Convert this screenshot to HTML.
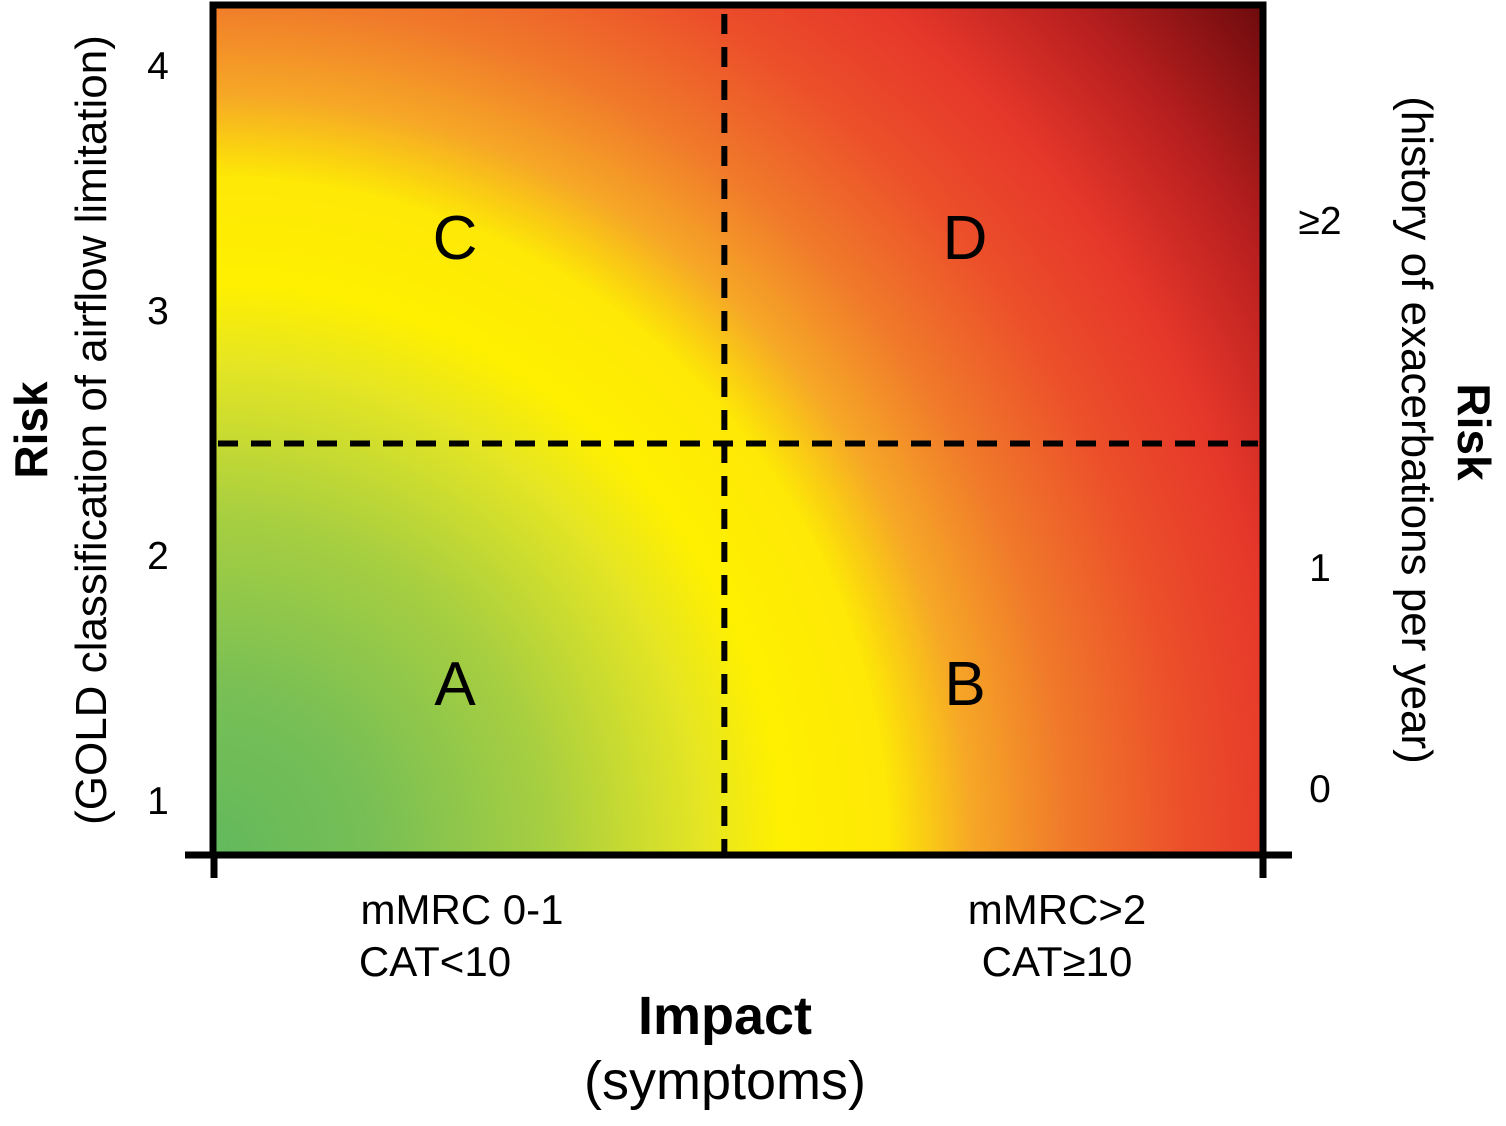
<!DOCTYPE html>
<html><head><meta charset="utf-8"><style>
html,body{margin:0;padding:0;background:#fff}
svg{display:block;font-family:"Liberation Sans",sans-serif}
</style></head><body>
<svg id="chart" width="1506" height="1126" viewBox="0 0 1506 1126">
<defs>
<radialGradient id="g" gradientUnits="userSpaceOnUse" cx="213" cy="853" r="1353">
<stop offset="0" stop-color="#62b95c"/>
<stop offset="0.12" stop-color="#78bf55"/>
<stop offset="0.25" stop-color="#a8cf40"/>
<stop offset="0.36" stop-color="#e4e524"/>
<stop offset="0.42" stop-color="#fff000"/>
<stop offset="0.50" stop-color="#fde806"/>
<stop offset="0.56" stop-color="#f6a826"/>
<stop offset="0.63" stop-color="#f07a2a"/>
<stop offset="0.72" stop-color="#ec4e2a"/>
<stop offset="0.80" stop-color="#e5372a"/>
<stop offset="0.89" stop-color="#b81f1f"/>
<stop offset="1" stop-color="#6a0a0c"/>
</radialGradient>
</defs>
<rect x="213" y="2" width="1052" height="851" fill="url(#g)"/>
<g id="marks"></g>
<path d="M213,853 V5 H1263 V853" fill="none" stroke="#000" stroke-width="7"/>
<line x1="185" y1="855" x2="1292" y2="855" stroke="#000" stroke-width="7"/>
<line x1="214" y1="852" x2="214" y2="878" stroke="#000" stroke-width="7"/>
<line x1="1263" y1="852" x2="1263" y2="878" stroke="#000" stroke-width="7"/>
<g font-size="62" text-anchor="middle">
<text x="455" y="259">C</text>
<text x="965" y="259">D</text>
<text x="455" y="705">A</text>
<text x="965" y="705">B</text>
</g>
<text transform="translate(47,430) rotate(-90)" text-anchor="middle" font-size="46" font-weight="bold">Risk</text>
<text transform="translate(106,430) rotate(-90)" text-anchor="middle" font-size="44">(GOLD classification of airflow limitation)</text>
<text transform="translate(1458,432) rotate(90)" text-anchor="middle" font-size="46" font-weight="bold">Risk</text>
<text transform="translate(1402,430) rotate(90)" text-anchor="middle" font-size="44">(history of exacerbations per year)</text>
<g font-size="42">
<text x="462" y="924" text-anchor="middle">mMRC 0-1</text>
<text x="435" y="976" text-anchor="middle">CAT&lt;10</text>
<text x="1057" y="924" text-anchor="middle">mMRC&gt;2</text>
<text x="1057" y="976" text-anchor="middle">CAT≥10</text>
</g>
<text x="725" y="1034" text-anchor="middle" font-size="54" font-weight="bold">Impact</text>
<text x="725" y="1099" text-anchor="middle" font-size="54">(symptoms)</text>
</svg>
<script>
const leftTicks = ["1","2","3","4"];
const leftTickValues = [1,2,3,4];
const rightTicks = ["0","1","≥2"];
const rightTickValues = [0,1,2];
const xDivider = [0.487];
const yDivider = [2.5];
const svg = document.getElementById('chart');
const NS = 'http://www.w3.org/2000/svg';
// left axis: value 1 -> y 800, 4 -> y 65
function yLeft(v){ return 800 - (v-1)*(800-65)/3; }
// right axis (piecewise): 0 -> 788, 1 -> 567, 2 -> 220
function yRight(v){ return v <= 1 ? 788 - v*221 : 567 - (v-1)*347; }
function xFrac(f){ return 213 + f*(1263-213); }
const marks = document.getElementById('marks');
leftTicks.forEach((t,i)=>{
  const el = document.createElementNS(NS,'text');
  el.setAttribute('x',158); el.setAttribute('y',yLeft(leftTickValues[i])+14);
  el.setAttribute('text-anchor','middle'); el.setAttribute('font-size','39');
  el.textContent = t;
  
  
  svg.appendChild(el);
});
rightTicks.forEach((t,i)=>{
  const el = document.createElementNS(NS,'text');
  el.setAttribute('x',1320); el.setAttribute('y',yRight(rightTickValues[i])+14);
  el.setAttribute('text-anchor','middle'); el.setAttribute('font-size','39');
  el.textContent = t;
  
  
  svg.appendChild(el);
});
xDivider.forEach(f=>{
  const l = document.createElementNS(NS,'line');
  const x = xFrac(f);
  l.setAttribute('x1',x); l.setAttribute('x2',x); l.setAttribute('y1',14); l.setAttribute('y2',853);
  l.setAttribute('stroke','#000'); l.setAttribute('stroke-width','6'); l.setAttribute('stroke-dasharray','20 13');
  
  
  marks.appendChild(l);
});
yDivider.forEach(v=>{
  const l = document.createElementNS(NS,'line');
  const y = yLeft(v)+11;
  l.setAttribute('x1',218); l.setAttribute('x2',1258); l.setAttribute('y1',y); l.setAttribute('y2',y);
  l.setAttribute('stroke','#000'); l.setAttribute('stroke-width','6'); l.setAttribute('stroke-dasharray','20 13');
  
  
  marks.appendChild(l);
});
</script>
</body></html>
